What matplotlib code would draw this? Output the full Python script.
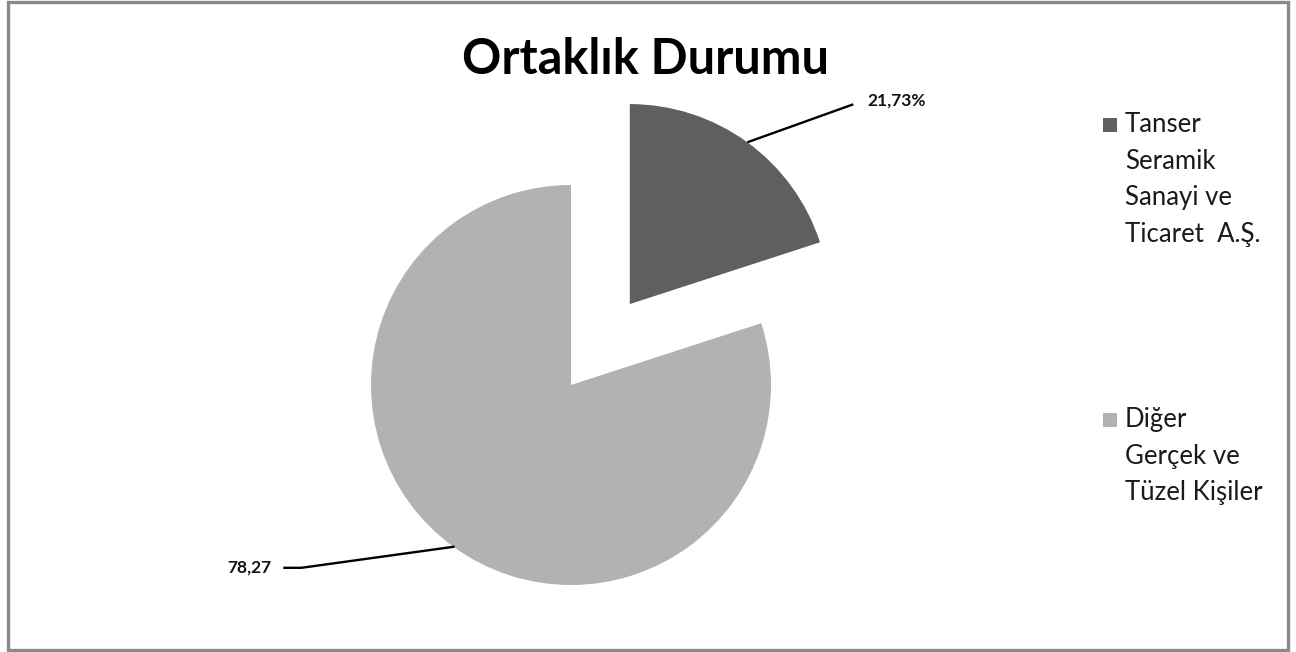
import numpy as np
import matplotlib
matplotlib.use("Agg")
from matplotlib import pyplot as plt
from matplotlib.patches import Rectangle

title = "Ortaklık Durumu"
labels = ["Tanser\nSeramik\nSanayi ve\nTicaret  A.Ş.", "Diğer\nGerçek ve\nTüzel Kişiler"]
# slice sizes as drawn in the picture (the printed labels differ slightly)
values = [20.0, 80.0]
value_texts = ["21,73%", "78,27"]
colors = ["#5f5f5f", "#b2b2b2"]

plt.rcParams['font.family'] = ['Lato', 'DejaVu Sans']

W, H = 1296, 652
fig = plt.figure(figsize=(W / 100, H / 100), dpi=100)
fig.patch.set_facecolor('white')

# axes over whole figure, 1 data unit = 200 px, pie centre at (571, 385) px from top
cx, cy, R = 571, 385, 200
ax = fig.add_axes([0, 0, 1, 1])

wedges, _ = ax.pie(values, colors=colors, startangle=90, counterclock=False,
                   explode=[0.5, 0], radius=1, center=(0, 0))
ax.set_xlim(-cx / R, (W - cx) / R)
ax.set_ylim(-(H - cy) / R, cy / R)
ax.axis('off')

def edge_point(w):
    mid = np.deg2rad((w.theta1 + w.theta2) / 2)
    x0, y0 = w.center
    return x0 + w.r * np.cos(mid), y0 + w.r * np.sin(mid)

# label for small slice
ex, ey = edge_point(wedges[0])
lx, ly = ex + 0.53, ey + 0.19
ax.plot([ex, lx], [ey, ly], color='black', lw=1.7, solid_capstyle='butt')
ax.text(lx + 0.07, ly + 0.02, value_texts[0], ha='left', va='center',
        fontsize=12.5, fontweight='bold', color='#111111')

# label for big slice
ex, ey = edge_point(wedges[1])
bx, by = ex - 0.76, ey - 0.105
ax.plot([ex, bx, bx - 0.085], [ey, by, by], color='black', lw=1.7)
ax.text(bx - 0.15, by, value_texts[1], ha='right', va='center',
        fontsize=12.5, fontweight='bold', color='#111111')

fig.text(646 / W, 1 - 60 / H, title, ha='center', va='center',
         fontsize=35, fontweight='bold', color='black')

# legend
leg_y = [118, 413]
for lab, col, top in zip(labels, colors, leg_y):
    fig.patches.append(Rectangle((1103 / W, 1 - (top + 14) / H), 14 / W, 14 / H,
                                 transform=fig.transFigure, facecolor=col,
                                 edgecolor='none'))
    fig.text(1125 / W, 1 - (top - 6) / H, lab, ha='left', va='top',
             multialignment='left', fontsize=18.5, color='#1a1a1a',
             linespacing=1.58)

# outer frame
fig.patches.append(Rectangle((7.5 / W, 2 / H), 1280 / W, 648.5 / H,
                             transform=fig.transFigure, facecolor='none',
                             edgecolor='#8a8a8a', lw=2.4))

fig.savefig("out.png", dpi=100)
